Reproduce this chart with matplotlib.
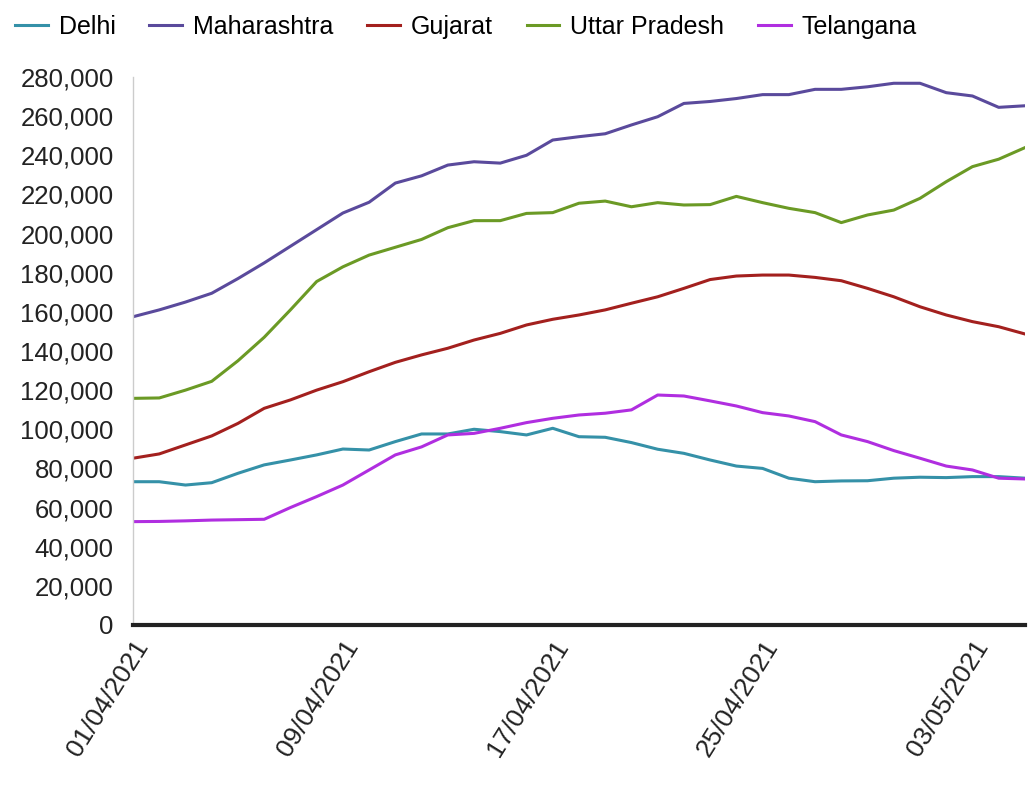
import numpy as np
import pandas as pd
import matplotlib
matplotlib.use('Agg')
import matplotlib.pyplot as plt
import matplotlib.dates as mdates
from matplotlib.ticker import FuncFormatter

plt.rcParams['font.family'] = ['Liberation Sans', 'DejaVu Sans']

dates = pd.date_range('2021-04-01', '2021-05-05', freq='D')

# active cases, thousands
delhi = [73.2, 73.2, 71.5, 72.7, 77.5, 81.8, 84.3, 86.9, 89.9, 89.4, 93.7, 97.6,
         97.6, 100.0, 98.8, 97.1, 100.5, 96.2, 95.9, 93.2, 89.8, 87.7, 84.3, 81.2,
         80.0, 75.0, 73.2, 73.6, 73.7, 75.0, 75.5, 75.3, 75.8, 75.8, 75.0]
maharashtra = [157.5, 161, 165, 169.5, 177, 185, 193.5, 202, 210.5, 216, 225.8, 229.5,
               235, 236.7, 236, 240, 247.8, 249.5, 251, 255.5, 259.7, 266.5, 267.5, 269,
               271, 271, 273.7, 273.7, 275, 276.8, 276.8, 272, 270.3, 264.5, 265.3]
gujarat = [85.2, 87.4, 92, 96.6, 103, 110.7, 115, 120, 124.3, 129.4, 134.2, 138,
           141.4, 145.6, 149, 153.3, 156.2, 158.4, 161, 164.4, 167.7, 172, 176.5, 178.3,
           178.8, 178.8, 177.6, 175.9, 172, 167.7, 162.6, 158.4, 155, 152.4, 148.7]
uttar_pradesh = [115.8, 116, 120, 124.5, 135, 147, 161, 175.5, 183, 189, 193, 197,
                 203, 206.6, 206.6, 210.3, 210.7, 215.5, 216.6, 213.7, 215.8, 214.6, 214.8, 219,
                 215.8, 212.9, 210.7, 205.6, 209.5, 212, 218, 226.5, 234.2, 238, 243.9]
telangana = [52.8, 52.9, 53.2, 53.6, 53.8, 54, 60, 65.6, 71.5, 79.2, 86.9, 91,
             97.1, 97.9, 100.5, 103.4, 105.6, 107.3, 108.2, 109.9, 117.5, 117, 114.5, 111.9,
             108.5, 106.8, 103.9, 97.1, 93.7, 89.1, 85.2, 81.2, 79.2, 75, 74.6]

series = [('Delhi', delhi, '#3591A8'),
          ('Maharashtra', maharashtra, '#5A4A9C'),
          ('Gujarat', gujarat, '#A3201E'),
          ('Uttar Pradesh', uttar_pradesh, '#6B9A25'),
          ('Telangana', telangana, '#B02EE0')]

fig = plt.figure(figsize=(10.28, 7.89), dpi=100)
ax = fig.add_axes([0.1294, 0.2079, 0.8676, 0.6945])

for name, vals, col in series:
    ax.plot(dates, np.array(vals) * 1000, color=col, lw=2.2, label=name)

ax.set_xlim(dates[0], dates[-1])
ax.set_ylim(0, 280000)
ax.set_yticks(np.arange(0, 280001, 20000))
ax.yaxis.set_major_formatter(FuncFormatter(lambda v, p: f'{int(v):,}'))
ax.set_xticks(dates[::8])
ax.xaxis.set_major_formatter(mdates.DateFormatter('%d/%m/%Y'))

ax.tick_params(axis='y', labelsize=18.5, length=0, pad=14, colors='#222222')
ax.tick_params(axis='x', labelsize=19, length=0, pad=8, colors='#222222')
for lbl in ax.get_xticklabels():
    lbl.set_rotation(58)
    lbl.set_ha('right')
    lbl.set_rotation_mode('anchor')

for s in ['top', 'right']:
    ax.spines[s].set_visible(False)
ax.spines['left'].set_color('#cccccc')
ax.spines['left'].set_linewidth(1)
ax.spines['bottom'].set_color('#222222')
ax.spines['bottom'].set_linewidth(3)

fig.legend(loc='upper left', bbox_to_anchor=(0.0, 1.0), ncol=5, frameon=False,
           fontsize=18, handlelength=1.3, handletextpad=0.45, columnspacing=1.35,
           borderaxespad=0.2)

fig.savefig('out.png', dpi=100)
